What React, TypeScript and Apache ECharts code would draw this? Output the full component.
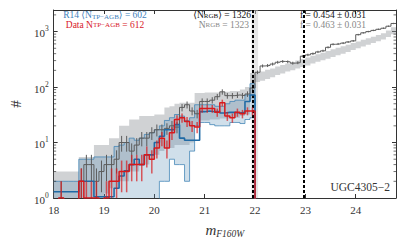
import React, { useEffect, useRef } from "react";
import * as echarts from "echarts";

// ---- axes ----
const X_MIN = 18;
const X_MAX = 24.8;
const Y_MIN = 1;
const Y_MAX = 2450;
const BIN_START = 18.0;
const BIN_WIDTH = 0.1;

// ---- all stars (data) histogram, bins from 18.0 to 24.8 ----
const dataAll = [
  0, 1, 0, 0, 0, 2, 4, 4, 2, 3,
  4, 4, 5, 10, 10, 7, 9, 12, 12, 15,
  17, 17, 18, 20, 19, 43, 48, 37, 33, 55,
  55, 58, 67, 82, 70, 70, 72, 70, 75, 96,
  185, 240, 245, 260, 280, 290, 285, 270, 275, 360,
  380, 400, 430, 450, 520, 590, 600, 620, 650, 680,
  880, 950, 1000, 1050, 1100, 1150, 1250, 1400,
];
// ---- model (all stars) range ----
const modelAllLow = [
  0, 0, 0, 0, 0, 0, 0, 0, 0, 0,
  1.2, 1.5, 1.5, 2, 2, 3, 3, 4, 4, 5,
  6, 7, 8, 8, 9, 9, 9, 10, 20, 25,
  25, 26, 26, 27, 27, 28, 28, 30, 32, 60,
  123, 130, 140, 150, 165, 175, 190, 200, 215, 230,
  245, 265, 285, 305, 325, 350, 375, 400, 430, 465,
  500, 540, 580, 620, 670, 720, 800, 900,
];
const modelAllHigh = [
  3, 3, 3, 3, 3, 5.5, 5.5, 5.5, 9, 9,
  9, 12, 12, 20, 20, 26, 26, 30, 30, 30,
  32, 32, 43, 45, 50, 52, 52, 52, 78, 78,
  80, 80, 80, 82, 82, 85, 85, 90, 100, 180,
  185, 190, 205, 215, 235, 250, 265, 280, 300, 320,
  340, 365, 390, 415, 445, 480, 510, 545, 580, 620,
  665, 710, 760, 810, 870, 930, 1050, 1200,
];
// ---- TP-AGB (bins 18.0 .. 22.0) ----
const r14Low = [
  0, 0, 0, 0, 0, 0, 0, 0, 0, 0,
  0, 0, 0, 0, 0, 0, 0, 0, 0, 0,
  0, 2, 2, 5, 4, 4, 2, 7, 20, 23,
  23, 21, 20, 20, 20, 23, 23, 22, 26, 28,
];
const r14High = [
  2, 2, 2, 2, 2, 5, 5, 5, 5.5, 5.5,
  5.5, 5.5, 8.5, 9, 10, 12, 11, 12, 14, 15,
  17, 20, 25, 28, 32, 30, 25, 28, 48, 48,
  48, 48, 45, 45, 50, 55, 58, 58, 72, 115,
];
const r14Mean = [
  1.3, 1.3, 1.3, 1.3, 1.3, 2, 2, 2, 1.05, 1.05,
  1.05, 1.05, 1.5, 2.5, 3.1, 4, 5, 4, 6, 6,
  10, 13, 17, 17, 21, 12, 11, 11, 11, 36,
  37, 36, 36, 34, 35, 35, 34, 35, 55, 72,
];
const dataAgb = [
  0, 1, 0, 0, 0, 2, 1, 1, 1, 0,
  1, 2, 2, 3, 3, 4, 4, 4, 6, 5,
  8, 12, 8, 15, 26, 28, 24, 20, 19, 41,
  41, 41, 35, 52, 30, 28, 35, 33, 37, 37,
];

const TRGB = 21.96;
const TRGB_BAND = [21.93, 22.06];
const CUT = 22.97;

const SERIF = "'Liberation Serif', 'DejaVu Serif', serif";
const FLOOR = 0.3;

const E = Array.from({ length: dataAll.length + 1 }, (_, i) =>
  +(BIN_START + i * BIN_WIDTH).toFixed(2)
);
const clampY = (v: number) => Math.min(Math.max(v, Y_MIN), Y_MAX);

function stepPoints(vals: number[], drop: boolean) {
  const n = vals.length;
  const pts: number[][] = vals.map((v, i) => [E[i], Math.max(v, FLOOR)]);
  pts.push([E[n], Math.max(vals[n - 1], FLOOR)]);
  if (drop) pts.push([E[n], FLOOR]);
  return pts;
}

function stepSeries(vals: number[], drop: boolean, color: string, width: number, z: number) {
  return {
    type: "line",
    step: "end",
    data: stepPoints(vals, drop),
    symbol: "none",
    lineStyle: { color, width },
    clip: true,
    silent: true,
    z,
  };
}

function bandSeries(lo: number[], hi: number[], fill: string, z: number) {
  return {
    type: "custom",
    silent: true,
    z,
    data: [[X_MIN, Y_MIN]],
    renderItem: (_p: any, api: any) => {
      const pts: number[][] = [];
      const n = hi.length;
      for (let i = 0; i < n; i++) {
        pts.push(api.coord([E[i], clampY(hi[i])]));
        pts.push(api.coord([E[i + 1], clampY(hi[i])]));
      }
      for (let i = n - 1; i >= 0; i--) {
        pts.push(api.coord([E[i + 1], clampY(lo[i])]));
        pts.push(api.coord([E[i], clampY(lo[i])]));
      }
      return { type: "polygon", shape: { points: pts }, style: { fill } };
    },
  };
}

function errSeries(vals: number[], color: string, width: number, z: number) {
  const data = vals
    .map((v, i) => [+(E[i] + BIN_WIDTH / 2).toFixed(3), v, Math.sqrt(v)])
    .filter((d) => d[1] > 0);
  return {
    type: "custom",
    silent: true,
    z,
    data,
    renderItem: (_p: any, api: any) => {
      const x = api.value(0);
      const v = api.value(1);
      const e = api.value(2);
      const a = api.coord([x, clampY(v - e)]);
      const b = api.coord([x, clampY(v + e)]);
      return {
        type: "line",
        shape: { x1: a[0], y1: a[1], x2: b[0], y2: b[1] },
        style: { stroke: color, lineWidth: width },
      };
    },
  };
}

const MINOR_Y: number[] = [];
[1, 10, 100, 1000].forEach((d) => {
  for (let k = 2; k <= 9; k++) if (k * d <= Y_MAX) MINOR_Y.push(k * d);
});

const minorTickSeries = {
  type: "custom",
  silent: true,
  z: 20,
  data: MINOR_Y.map((v) => [X_MIN, v]),
  renderItem: (params: any, api: any) => {
    const p = api.coord([X_MIN, api.value(1)]);
    const cs = params.coordSys;
    return {
      type: "group",
      children: [
        { type: "line", shape: { x1: cs.x, y1: p[1], x2: cs.x + 2.5, y2: p[1] }, style: { stroke: "#333", lineWidth: 0.7 } },
        { type: "line", shape: { x1: cs.x + cs.width - 2.5, y1: p[1], x2: cs.x + cs.width, y2: p[1] }, style: { stroke: "#333", lineWidth: 0.7 } },
      ],
    };
  },
};

function rich(fill: string, size: number) {
  return {
    a: { fill, fontSize: size, fontFamily: SERIF, lineHeight: 8, verticalAlign: "middle" },
    s: { fill, fontSize: Math.round(size * 0.7), fontFamily: SERIF, lineHeight: 3, verticalAlign: "bottom" },
  };
}

function label(text: string, x: number, y: number, fill: string, align: string, size = 9.5) {
  return {
    type: "text",
    x,
    y,
    z: 100,
    silent: true,
    style: { text, align, verticalAlign: "middle", rich: rich(fill, size), fill, font: `${size}px ${SERIF}` },
  };
}

const BLUE_TXT = "#3f82bd";
const RED_TXT = "#d8202a";

const option: any = {
  animation: false,
  grid: { left: 46, right: 11, top: 10, bottom: 43, containLabel: false },
  xAxis: [
    {
      type: "value",
      min: X_MIN,
      max: X_MAX,
      interval: 1,
      axisLine: { show: true, lineStyle: { color: "#333", width: 1 } },
      axisTick: { inside: true, length: 4, lineStyle: { color: "#333" } },
      axisLabel: { fontFamily: SERIF, fontSize: 11, color: "#333", margin: 6, showMaxLabel: false },
      splitLine: { show: false },
      name: "{m|m}{s|F160W}",
      nameLocation: "middle",
      nameGap: 23,
      nameTextStyle: {
        rich: {
          m: { fontFamily: SERIF, fontStyle: "italic", fontSize: 15, color: "#333", lineHeight: 18, verticalAlign: "middle" },
          s: { fontFamily: SERIF, fontStyle: "italic", fontSize: 9.5, color: "#333", lineHeight: 18, verticalAlign: "bottom" },
        },
      },
    },
    {
      type: "value",
      position: "top",
      min: X_MIN,
      max: X_MAX,
      interval: 1,
      axisLine: { show: true, lineStyle: { color: "#333", width: 1 } },
      axisTick: { inside: true, length: 4, lineStyle: { color: "#333" } },
      axisLabel: { show: false },
      splitLine: { show: false },
    },
  ],
  yAxis: [
    {
      type: "log",
      logBase: 10,
      min: Y_MIN,
      max: Y_MAX,
      axisLine: { show: true, lineStyle: { color: "#333", width: 1 } },
      axisTick: { inside: true, length: 4, lineStyle: { color: "#333" } },
      axisLabel: {
        margin: 5,
        showMaxLabel: false,
        formatter: (v: number) => `{b|10}{s|${Math.round(Math.log10(v))}}`,
        rich: {
          b: { fontFamily: SERIF, fontSize: 11, color: "#333", lineHeight: 14, verticalAlign: "bottom" },
          s: { fontFamily: SERIF, fontSize: 7.5, color: "#333", lineHeight: 14, verticalAlign: "top" },
        },
      },
      splitLine: { show: false },
      name: "#",
      nameLocation: "middle",
      nameGap: 28,
      nameRotate: 90,
      nameTextStyle: { fontFamily: SERIF, fontSize: 15, color: "#333" },
    },
    {
      type: "log",
      logBase: 10,
      position: "right",
      min: Y_MIN,
      max: Y_MAX,
      axisLine: { show: true, lineStyle: { color: "#333", width: 1 } },
      axisTick: { inside: true, length: 4, lineStyle: { color: "#333" } },
      axisLabel: { show: false },
      splitLine: { show: false },
    },
  ],
  series: [
    bandSeries(modelAllLow, modelAllHigh, "rgba(150,155,160,0.45)", 1),
    bandSeries(r14Low, r14High, "rgba(100,150,185,0.3)", 2),
    stepSeries(r14Low, true, "rgba(60,130,180,0.75)", 1, 3),
    stepSeries(r14High, true, "rgba(60,130,180,0.75)", 1, 3),
    stepSeries(dataAll, false, "#5c5c5c", 1, 4),
    errSeries(dataAll, "#5c5c5c", 1, 4),
    stepSeries(r14Mean, true, "#1f6aa5", 1.6, 5),
    stepSeries(dataAgb, true, "#d7191c", 1.5, 6),
    errSeries(dataAgb, "rgba(215,25,28,0.7)", 1.5, 6),
    {
      type: "line",
      data: [],
      z: 8,
      silent: true,
      markArea: {
        silent: true,
        itemStyle: { color: "rgba(200,200,200,0.45)" },
        data: [[{ xAxis: TRGB_BAND[0] }, { xAxis: TRGB_BAND[1] }]],
      },
      markLine: {
        silent: true,
        symbol: "none",
        label: { show: false },
        lineStyle: { color: "#000", width: 2, type: [3, 2] },
        data: [{ xAxis: TRGB }, { xAxis: CUT }],
      },
    },
    minorTickSeries,
  ],
  graphic: [
    label("R14 {a|⟨N}{s|TP−AGB}{a|⟩ = 602}", 105, 15, BLUE_TXT, "center"),
    label("{a|Data N}{s|TP−AGB}{a| = 612}", 105, 24.7, RED_TXT, "center"),
    label("{a|⟨N}{s|RGB}{a|⟩ = 1326}", 251, 15, "#111", "right"),
    label("{a|N}{s|RGB}{a| = 1323}", 249, 24.7, "#888", "right"),
    label("{a|f = 0.454 ± 0.031}", 300, 15, "#111", "left"),
    label("{a|f = 0.463 ± 0.031}", 300, 24.7, "#888", "left"),
    label("{a|UGC4305−2}", 390, 187, "#333", "right", 11.5),
  ],
};

export default function App() {
  const ref = useRef<HTMLDivElement>(null);
  useEffect(() => {
    const chart = echarts.init(ref.current!, null, { renderer: "svg" });
    chart.setOption(option);
    return () => chart.dispose();
  }, []);
  return (
    <div
      ref={ref}
      style={{ position: "fixed", left: 0, top: 0, width: 407, height: 244, background: "#fff" }}
    />
  );
}
